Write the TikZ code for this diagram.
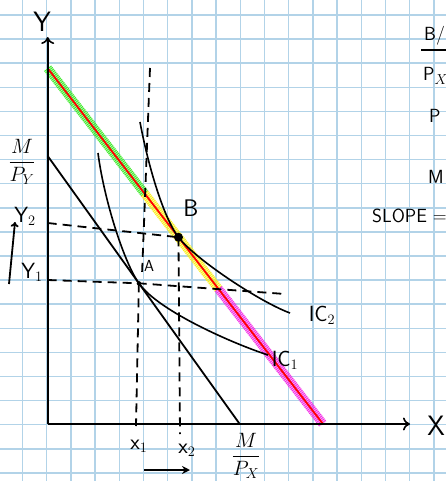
\documentclass[tikz,border=0pt]{standalone}
\usepackage{amsmath}
\usetikzlibrary{arrows.meta,calc}
\definecolor{gridblue}{RGB}{178,211,232}
\definecolor{hgreen}{RGB}{60,235,40}
\definecolor{hyellow}{RGB}{250,240,20}
\definecolor{hmag}{RGB}{245,40,230}
\tikzset{
  gridline/.style={draw=gridblue, line width=1.5},
  axisline/.style={line width=2.2, -{To[length=7,width=13,line width=1.6]}},
  budget/.style={line width=1.8},
  hatchband/.style={line width=9, dash pattern=on 0.9pt off 1.0pt},
  softband/.style={line width=9, opacity=0.3},
  guide/.style={line width=1.8, dash pattern=on 9pt off 6pt},
  icurve/.style={line width=1.6},
  lbl/.style={font=\sffamily\fontsize{24}{24}\selectfont, inner sep=0pt},
  small/.style={font=\sffamily\fontsize{19}{19}\selectfont, inner sep=0pt},
  mid/.style={font=\sffamily\fontsize{22}{22}\selectfont, inner sep=0pt},
}
\begin{document}
\begin{tikzpicture}[x=1pt,y=-1pt]
\useasboundingbox (0,0) rectangle (446,481);
\clip (0,0) rectangle (446,481);
\fill[white] (0,0) rectangle (446,481);
% grid
\foreach \k in {0,...,17} { \draw[gridline] ({22.5+24.2*\k},0) -- ({22.5+24.2*\k},481); }
\foreach \k in {0,...,19} { \draw[gridline] (0,{15+24.1*\k}) -- (446,{15+24.1*\k}); }

% key points
\coordinate (O) at (47.7,424);
\coordinate (Ytop) at (47.7,37);
\coordinate (Xend) at (410,424);
\coordinate (NB1) at (47.7,68.3);
\coordinate (NB2) at (323,424);
\coordinate (G) at ($(NB1)!0.352!(NB2)$);
\coordinate (Yl) at ($(NB1)!0.62!(NB2)$);
\coordinate (B) at ($(NB1)!0.475!(NB2)$);
\coordinate (OB1) at (47.7,156);
\coordinate (OB2) at (239.7,424);
\coordinate (A) at ($(OB1)!0.475!(OB2)$);

% hatch bands of new budget line
\begin{scope}[shift={(2.8,-2.2)}]
\draw[hgreen, softband] (NB1) -- (G);
\draw[hyellow, softband] (G) -- (Yl);
\draw[hmag, softband] (Yl) -- (NB2);
\draw[hgreen, hatchband] (NB1) -- (G);
\draw[hyellow, hatchband] (G) -- (Yl);
\draw[hmag, hatchband] (Yl) -- (NB2);
\end{scope}
\draw[red, budget] (NB1) -- (NB2);

% old budget line
\draw[budget] (OB1) -- (OB2);

% axes
\draw[axisline] (O) -- (Ytop);
\draw[axisline] (O) -- (Xend);

% guide dashed lines
\coordinate (Y1) at (47.7,280);
\coordinate (Y1end) at (285,294);
\coordinate (Y2) at (47.7,223);
\coordinate (X1) at (136,426);
\coordinate (X2) at (180,434);
\coordinate (Vt) at (150,68);
\coordinate (Vb) at (142,275);
\draw[guide] (Y1) -- (A) -- (Y1end);
\draw[guide] (Y2) -- (B);
\draw[guide] (A) -- (X1);
\draw[guide] (B) -- (X2);
\draw[guide] (Vt) -- (Vb);

% indifference curves
\coordinate (I1s) at (98,153);
\coordinate (I1e) at (268,355);
\coordinate (I2s) at (140,122);
\coordinate (I2e) at (290,313);
\draw[icurve] (I1s) .. controls (104,200) and (124.3,263) .. (A)
   .. controls (159.3,311.8) and (234.8,344.2) .. (I1e);
\draw[icurve] (I2s) .. controls (148,165) and (163.2,217.2) .. (B)
   .. controls (196.8,260.7) and (261.8,302.8) .. (I2e);

% points
\fill (B) circle (4.5);
\fill (A) circle (2.2);

% labels
\node[lbl, font=\sffamily\fontsize{28}{28}\selectfont] (ly) at (42,22) {Y};
\node[lbl, font=\sffamily\fontsize{28}{28}\selectfont] (lx) at (436,426) {X};
\node[lbl] (lB) at (191,208) {B};
\node[small, font=\sffamily\fontsize{16}{16}\selectfont] (lA) at (149,266) {A};
\node[mid] (lic2) at (322,315) {IC$_2$};
\node[mid] (lic1) at (285,360) {IC$_1$};
\node[mid] (lmpy) at (22,162) {$\dfrac{M}{P_Y}$};
\node[mid] (ly2) at (25,216) {Y$_2$};
\node[mid] (ly1) at (32,272) {Y$_1$};
\node[mid] (lx1) at (139,446) {x$_1$};
\node[mid] (lx2) at (187,450) {x$_2$};
\node[mid] (lmpx) at (246,456) {$\dfrac{M}{P_X}$};
\coordinate (ua) at (9,284);
\coordinate (ub) at (15,222);
\draw[line width=1.8, -{To[length=5,width=8]}] (ua) -- (ub);
\coordinate (ra) at (144,470);
\coordinate (rb) at (190,470);
\draw[line width=2, -{Stealth[length=8,width=8]}] (ra) -- (rb);

% right-hand notes (cut off at edge in the reference)
\node[small, anchor=west] (n1) at (424,36) {B/};
\coordinate (u1) at (421,50);
\coordinate (u2) at (446,50);
\draw[line width=1.6] (u1) -- (u2);
\node[small, anchor=west] (n2) at (423,76) {P$_X$};
\node[small, anchor=west] (n3) at (429,116) {P};
\node[small, anchor=west] (n4) at (428,177) {M};
\node[small, anchor=west] (n5) at (372,216) {SLOPE =};
\end{tikzpicture}
\end{document}
